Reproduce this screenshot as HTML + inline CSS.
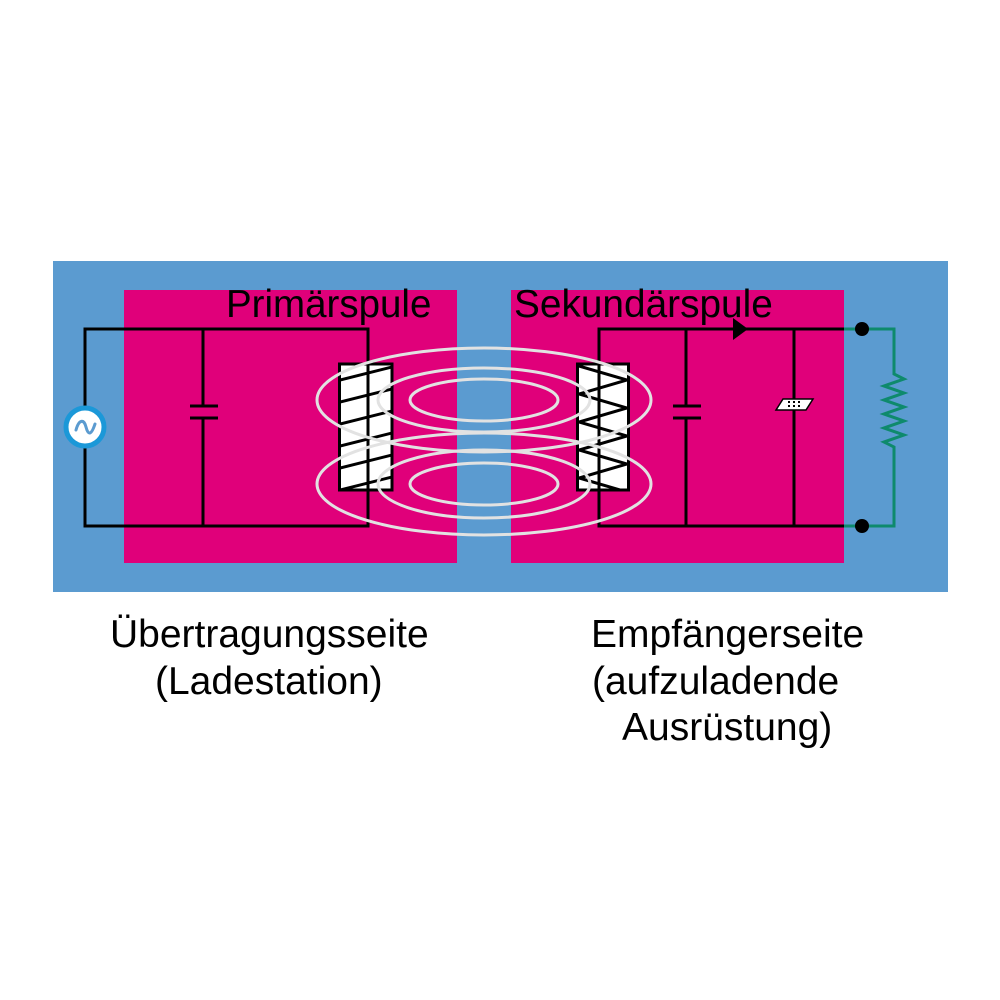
<!DOCTYPE html>
<html>
<head>
<meta charset="utf-8">
<style>
  html,body{margin:0;padding:0;background:#fff;}
  svg{display:block;}
  text{font-family:"Liberation Sans", Arial, sans-serif;}
</style>
</head>
<body>
<svg width="1000" height="1000" viewBox="0 0 1000 1000" xmlns="http://www.w3.org/2000/svg">
  <rect x="0" y="0" width="1000" height="1000" fill="#ffffff"/>
  <!-- blue background -->
  <rect x="53" y="261" width="895" height="331" fill="#5b9bd0"/>
  <!-- pink panels -->
  <rect x="124" y="290" width="333" height="273" fill="#e0007a"/>
  <rect x="511" y="290" width="333" height="273" fill="#e0007a"/>

  <!-- headings -->
  <text x="226" y="317" font-size="38.5" fill="#000">Primärspule</text>
  <text x="514" y="317" font-size="38.8" fill="#000">Sekundärspule</text>

  <defs>
    <clipPath id="lc"><rect x="340" y="365" width="51" height="124"/></clipPath>
    <clipPath id="rc"><rect x="578" y="365" width="50" height="124"/></clipPath>
  </defs>

  <!-- LEFT CIRCUIT wires -->
  <g stroke="#000" stroke-width="3" fill="none" stroke-linecap="square">
    <path d="M85 406 L85 329 L368 329 L368 526 L85 526 L85 448"/>
    <path d="M203 329 L203 406 M203 418 L203 526"/>
    <path d="M190 406 L218 406 M190 418 L218 418" stroke-linecap="butt"/>
  </g>
  <!-- AC source -->
  <circle cx="85" cy="427" r="19" fill="#fff" stroke="#1b98d8" stroke-width="5"/>
  <path d="M76 430 C79 419, 84 419, 86 427 S91 436, 95 424" fill="none" stroke="#5b9bd0" stroke-width="3" stroke-linecap="round"/>

  <!-- left coil -->
  <rect x="339.5" y="364" width="52.5" height="126" fill="#fff" stroke="#000" stroke-width="3"/>
  <g clip-path="url(#lc)" stroke="#000" stroke-width="3">
    <line x1="368" y1="364" x2="368" y2="490"/>
    <line x1="340" y1="490" x2="392" y2="477"/>
    <line x1="340" y1="468" x2="392" y2="455"/>
    <line x1="340" y1="446" x2="392" y2="433"/>
    <line x1="340" y1="424" x2="392" y2="411"/>
    <line x1="340" y1="402" x2="392" y2="389"/>
    <line x1="340" y1="380" x2="392" y2="367"/>
    <line x1="340" y1="358" x2="392" y2="345"/>
  </g>
  <rect x="339.5" y="364" width="52.5" height="126" fill="none" stroke="#000" stroke-width="3"/>

  <!-- RIGHT CIRCUIT wires -->
  <g stroke="#000" stroke-width="3" fill="none" stroke-linecap="square">
    <path d="M844 329 L599 329 L599 526 L844 526"/>
    <path d="M686 329 L686 406 M686 418 L686 526"/>
    <path d="M673 406 L701 406 M673 418 L701 418" stroke-linecap="butt"/>
    <path d="M794 329 L794 526"/>
  </g>
  <!-- diode triangle -->
  <polygon points="733,318 748,329 733,340" fill="#000"/>
  <!-- small element -->
  <polygon points="776,410 783,399 813,399 806,410" fill="#fff" stroke="#000" stroke-width="1.5"/>
  <g fill="#000">
    <rect x="788" y="401" width="2" height="2"/><rect x="793" y="401" width="2" height="2"/><rect x="798" y="401" width="2" height="2"/>
    <rect x="788" y="405" width="2" height="2"/><rect x="793" y="405" width="2" height="2"/><rect x="798" y="405" width="2" height="2"/>
  </g>

  <!-- right coil -->
  <rect x="577.5" y="364" width="51" height="126" fill="#fff" stroke="#000" stroke-width="3"/>
  <g clip-path="url(#rc)" stroke="#000" stroke-width="3" fill="none">
    <line x1="599" y1="364" x2="599" y2="490"/>
    <polyline points="579,366 627,380 579,394 627,408 579,422 627,436 579,450 627,464 579,478 627,492"/>
  </g>
  <rect x="577.5" y="364" width="51" height="126" fill="none" stroke="#000" stroke-width="3"/>

  <!-- green load -->
  <g stroke="#0e8a6c" stroke-width="3" fill="none" stroke-linejoin="miter">
    <path d="M844 329 L894 329 L894 374 L904 379 L884 386 L904 393 L884 400 L904 407 L884 414 L904 421 L884 428 L904 435 L884 442 L894 447 L894 526 L844 526"/>
  </g>
  <circle cx="862" cy="329" r="7" fill="#000"/>
  <circle cx="862" cy="526" r="7" fill="#000"/>

  <!-- field lines -->
  <g fill="none" stroke="#e2e2e2" stroke-width="3">
    <ellipse cx="484" cy="400" rx="167" ry="52"/>
    <ellipse cx="484" cy="400" rx="106" ry="32"/>
    <ellipse cx="484" cy="400" rx="74" ry="21"/>
    <ellipse cx="484" cy="484" rx="167" ry="51"/>
    <ellipse cx="484" cy="484" rx="106" ry="34"/>
    <ellipse cx="484" cy="484" rx="74" ry="21"/>
  </g>

  <!-- captions -->
  <g font-size="39" fill="#000">
    <text x="110" y="647">Übertragungsseite</text>
    <text x="155" y="694">(Ladestation)</text>
    <text x="591" y="647">Empfängerseite</text>
    <text x="592" y="694">(aufzuladende</text>
    <text x="622" y="740">Ausrüstung)</text>
  </g>
</svg>
</body>
</html>
